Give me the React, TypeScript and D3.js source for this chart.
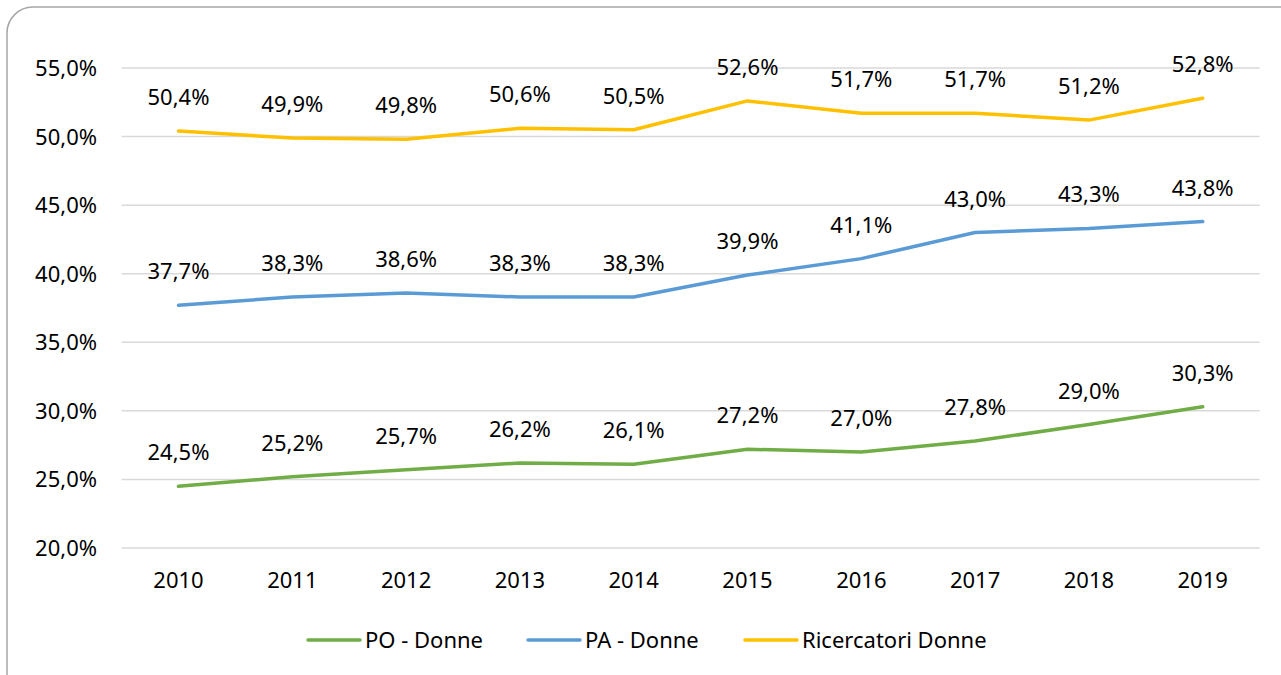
import React from "react";
import * as d3 from "d3";

const years = ["2010", "2011", "2012", "2013", "2014", "2015", "2016", "2017", "2018", "2019"];
const poDonne = [24.5, 25.2, 25.7, 26.2, 26.1, 27.2, 27.0, 27.8, 29.0, 30.3];
const paDonne = [37.7, 38.3, 38.6, 38.3, 38.3, 39.9, 41.1, 43.0, 43.3, 43.8];
const ricDonne = [50.4, 49.9, 49.8, 50.6, 50.5, 52.6, 51.7, 51.7, 51.2, 52.8];
const yTicks = [20, 25, 30, 35, 40, 45, 50, 55];
const seriesNames = ["PO - Donne", "PA - Donne", "Ricercatori Donne"];
const seriesColors = ["#70AD47", "#5B9BD5", "#FFC000"];

const W = 1281;
const H = 675;
const FONT = "'Noto Sans', 'Open Sans', sans-serif";

const fmt = (v: number) => v.toFixed(1).replace(".", ",") + "%";

export default function App() {
  const x = d3.scaleBand<string>().domain(years).range([121.6, 1259.6]);
  const y = d3.scaleLinear().domain([20, 55]).range([548, 68]);
  const cx = (yr: string) => (x(yr) as number) + x.bandwidth() / 2;
  const line = d3
    .line<number>()
    .x((_, i) => cx(years[i]))
    .y((d) => y(d));
  const series = [poDonne, paDonne, ricDonne];

  const legendItems = [
    { x0: 308, tx: 365 },
    { x0: 528, tx: 585 },
    { x0: 745, tx: 802 },
  ];

  return (
    <svg
      width={W}
      height={H}
      style={{ position: "absolute", left: 0, top: 0, display: "block", background: "#fff" }}
      fontFamily={FONT}
    >
      <rect x={7} y={7} width={1300} height={700} rx={26} ry={26} fill="#fff" stroke="#a6a6a6" strokeWidth={1.5} />
      {yTicks.map((t) => (
        <g key={t}>
          <line x1={121.6} x2={1259.6} y1={y(t)} y2={y(t)} stroke="#d9d9d9" strokeWidth={1.5} />
          <text x={97} y={y(t) + 8} textAnchor="end" fontSize={22} fill="#000">
            {fmt(t)}
          </text>
        </g>
      ))}
      {years.map((yr) => (
        <text key={yr} x={cx(yr)} y={588} textAnchor="middle" fontSize={22} fill="#000">
          {yr}
        </text>
      ))}
      {series.map((s, si) => (
        <path
          key={si}
          d={line(s) as string}
          fill="none"
          stroke={seriesColors[si]}
          strokeWidth={3.5}
          strokeLinejoin="round"
          strokeLinecap="round"
        />
      ))}
      {series.map((s, si) =>
        s.map((v, i) => (
          <text key={`${si}-${i}`} x={cx(years[i])} y={y(v) - 26} textAnchor="middle" fontSize={22} fill="#000">
            {fmt(v)}
          </text>
        ))
      )}
      {legendItems.map((it, i) => (
        <g key={i}>
          <line x1={it.x0} x2={it.x0 + 52} y1={640} y2={640} stroke={seriesColors[i]} strokeWidth={3.5} strokeLinecap="round" />
          <text x={it.tx} y={648} fontSize={22} fill="#000">
            {seriesNames[i]}
          </text>
        </g>
      ))}
    </svg>
  );
}
